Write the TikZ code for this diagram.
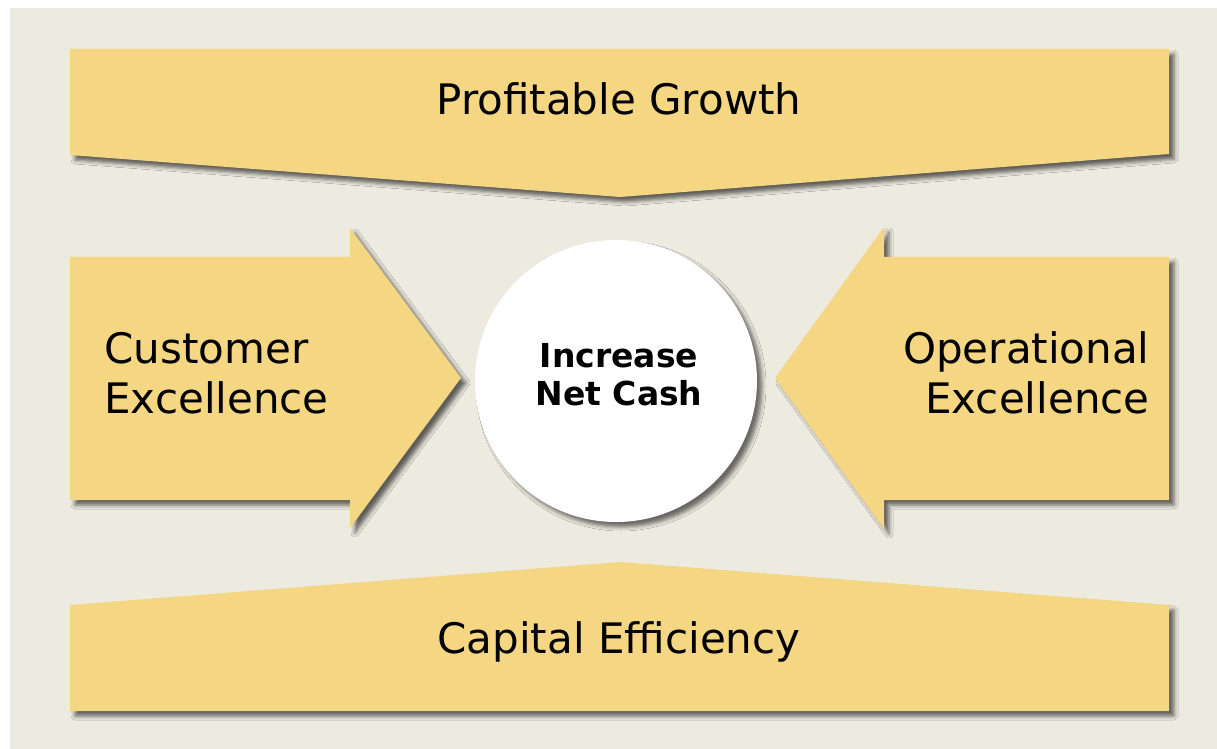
\documentclass[tikz,border=0pt]{standalone}
\usepackage{fontspec}
\setmainfont{DejaVu Sans}
\usetikzlibrary{shadows.blur}
\definecolor{bgbeige}{RGB}{237,234,224}
\definecolor{gold}{RGB}{245,214,131}
\tikzset{
  panel/.style={fill=gold, blur shadow={shadow xshift=2.5pt, shadow yshift=-2.5pt, shadow blur radius=2pt, shadow opacity=60}},
  disc/.style={fill=white, blur shadow={shadow xshift=2.5pt, shadow yshift=-2.5pt, shadow blur radius=2pt, shadow opacity=55}},
  lbl/.style={font=\fontsize{21}{25}\selectfont, text=black, inner sep=0pt},
  clbl/.style={font=\fontsize{16.5}{19}\selectfont\bfseries, text=black, inner sep=0pt, align=center}
}
\begin{document}
\begin{tikzpicture}[x=0.5pt,y=-0.5pt]
\useasboundingbox (0,0) rectangle (1217,749);
\fill[white] (0,0) rectangle (1217,749);
\fill[bgbeige] (10,8) rectangle (1230,760);
% top banner
\path[panel] (70,49) -- (1169,49) -- (1169,154) -- (620,197) -- (70,155) -- cycle;
% bottom banner
\path[panel] (70,605) -- (620,562) -- (1169,605) -- (1169,711) -- (70,711) -- cycle;
% left arrow
\path[panel] (70,257) -- (350,257) -- (350,228) -- (461,378) -- (350,528) -- (350,500) -- (70,500) -- cycle;
% right arrow
\path[panel] (1169,257) -- (884,257) -- (884,227) -- (775,378) -- (884,529) -- (884,500) -- (1169,500) -- cycle;
% circle
\path[disc] (616,381) circle[radius=141];
% labels
\node[lbl, anchor=base] (pg) at (619,115) {Profitable Growth};
\node[lbl, anchor=base] (ce) at (619,653) {Capital Efficiency};
\node[lbl, anchor=base west] (cu1) at (104,363) {Customer};
\node[lbl, anchor=base west] (cu2) at (104,413) {Excellence};
\node[lbl, anchor=base east] (op1) at (1150,363) {Operational};
\node[lbl, anchor=base east] (op2) at (1150,413) {Excellence};
\node[clbl, anchor=base] (inc1) at (619,367) {Increase};
\node[clbl, anchor=base] (inc2) at (619,405) {Net Cash};
\end{tikzpicture}
\end{document}
